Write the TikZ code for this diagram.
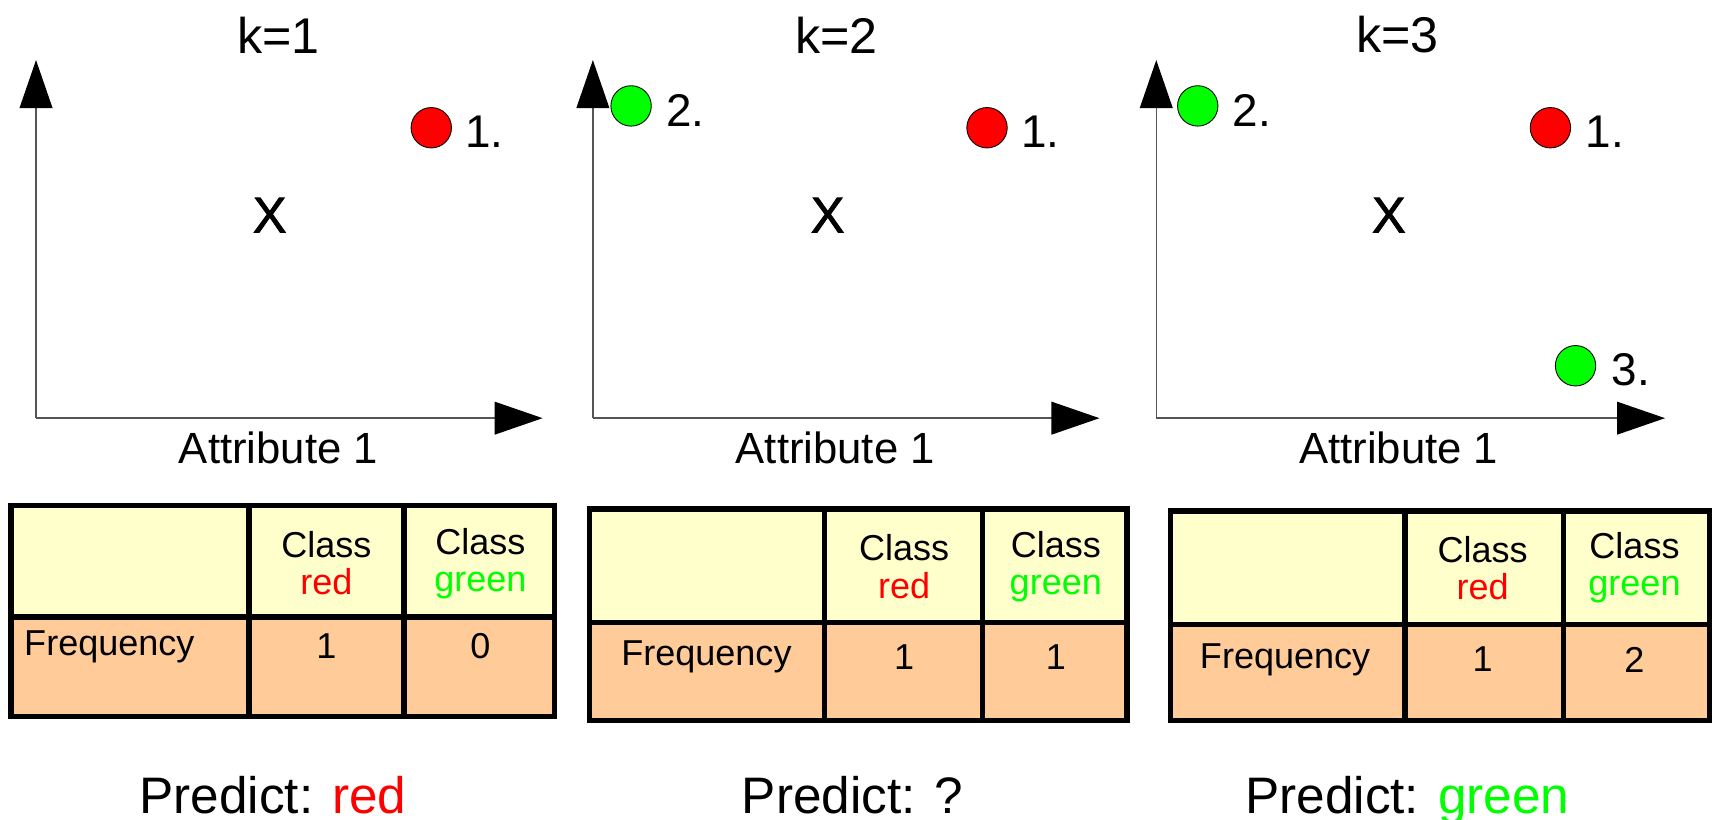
\documentclass[tikz,border=0pt]{standalone}
\usepackage{fontspec}
\setmainfont{Liberation Sans}
\newfontfamily\heavyfont[FakeBold=1.6]{Liberation Sans}
\usetikzlibrary{arrows.meta}
\definecolor{ptred}{HTML}{FF0000}
\definecolor{ptgreen}{HTML}{00FF00}
\definecolor{headbg}{HTML}{FFFFCC}
\definecolor{rowbg}{HTML}{FFCC99}
\definecolor{axisgray}{HTML}{555555}
\tikzset{
  axis/.style={draw=axisgray, line width=1.3pt, -{Triangle[length=44pt,width=30pt,fill=black,color=black]}},
  ttl/.style={font=\fontsize{46}{50}\selectfont, inner sep=0pt},
  lbl/.style={font=\fontsize{42}{46}\selectfont, inner sep=0pt, anchor=west},
  qmark/.style={font=\heavyfont\fontsize{46}{50}\selectfont, inner sep=0pt},
  attr/.style={font=\fontsize{40}{44}\selectfont, inner sep=0pt},
  pt/.style={circle, draw=black, line width=0.8pt, minimum size=37pt, inner sep=0pt},
  redpt/.style={pt, fill=ptred},
  greenpt/.style={pt, fill=ptgreen},
  cell/.style={font=\fontsize{33}{38}\selectfont, inner sep=0pt, align=center},
  grid/.style={line width=5pt, line cap=rect},
  pred/.style={font=\fontsize{47}{52}\selectfont, inner sep=0pt, anchor=base},
}
\begin{document}
\begin{tikzpicture}[x=1pt, y=-1pt]
\useasboundingbox (0,0) rectangle (1568,751);

% ---------- panel k=1 ----------
\coordinate (o1) at (33,383);
\coordinate (ty1) at (33,55);
\coordinate (tx1) at (497,383);
\draw[axis] (o1) -- (ty1);
\draw[axis] (o1) -- (tx1);
\node[ttl] (k1) at (255,32) {k=1};
\node[qmark] (q1) at (247,197) {X};
\node[attr] (a1) at (255,410) {Attribute 1};
\node[redpt] (p1r) at (395,117) {};
\node[lbl] (l1r) at (426,121) {1.};

% ---------- panel k=2 ----------
\coordinate (o2) at (543,383);
\coordinate (ty2) at (543,55);
\coordinate (tx2) at (1007,383);
\draw[axis] (o2) -- (ty2);
\draw[axis] (o2) -- (tx2);
\node[ttl] (k2) at (766,32) {k=2};
\node[qmark] (q2) at (758,197) {X};
\node[attr] (a2) at (765,410) {Attribute 1};
\node[redpt] (p2r) at (904,117) {};
\node[lbl] (l2r) at (935,121) {1.};
\node[greenpt] (p2g) at (578,97) {};
\node[lbl] (l2g) at (610,101) {2.};

% ---------- panel k=3 ----------
\coordinate (o3) at (1059,383);
\coordinate (ty3) at (1059,55);
\coordinate (tx3) at (1525,383);
\draw[axis] (o3) -- (ty3);
\draw[axis] (o3) -- (tx3);
\node[ttl] (k3) at (1280,32) {k=3};
\node[qmark] (q3) at (1272,197) {X};
\node[attr] (a3) at (1281,410) {Attribute 1};
\node[redpt] (p3r) at (1420,117) {};
\node[lbl] (l3r) at (1452,121) {1.};
\node[greenpt] (p3g) at (1097,97) {};
\node[lbl] (l3g) at (1129,101) {2.};
\node[greenpt] (p3g3) at (1443,335) {};
\node[lbl] (l3g3) at (1476,339) {3.};

% ---------- table 1 ----------
\fill[headbg] (10,463) rectangle (508,565);
\fill[rowbg] (10,565) rectangle (508,656);
\draw[grid] (10,463) rectangle (508,656);
\draw[grid] (10,565) -- (508,565);
\draw[grid] (228,463) -- (228,656);
\draw[grid] (370,463) -- (370,656);
\node[cell] (h1a) at (299,516) {Class\\[-4pt]\textcolor{ptred}{red}};
\node[cell] (h1b) at (440,516) {Class\\[-4pt]\textcolor{ptgreen}{green}};
\node[cell, anchor=west] (f1) at (22,592) {Frequency};
\node[cell] (v1a) at (299,592) {1};
\node[cell] (v1b) at (440,592) {0};

% ---------- table 2 ----------
\fill[headbg] (540,466) rectangle (1032,570);
\fill[rowbg] (540,570) rectangle (1032,660);
\draw[grid] (540,466) rectangle (1032,660);
\draw[grid] (540,570) -- (1032,570);
\draw[grid] (755,466) -- (755,660);
\draw[grid] (900,466) -- (900,660);
\node[cell] (h2a) at (828,519) {Class\\[-4pt]\textcolor{ptred}{red}};
\node[cell] (h2b) at (967,519) {Class\\[-4pt]\textcolor{ptgreen}{green}};
\node[cell] (f2) at (647,602) {Frequency};
\node[cell] (v2a) at (828,602) {1};
\node[cell] (v2b) at (967,602) {1};

% ---------- table 3 ----------
\fill[headbg] (1072,468) rectangle (1566,572);
\fill[rowbg] (1072,572) rectangle (1566,660);
\draw[grid] (1072,468) rectangle (1566,660);
\draw[grid] (1072,572) -- (1566,572);
\draw[grid] (1287,468) -- (1287,660);
\draw[grid] (1432,468) -- (1432,660);
\node[cell] (h3a) at (1358,520) {Class\\[-4pt]\textcolor{ptred}{red}};
\node[cell] (h3b) at (1497,520) {Class\\[-4pt]\textcolor{ptgreen}{green}};
\node[cell] (f3) at (1177,604) {Frequency};
\node[cell] (v3a) at (1358,604) {1};
\node[cell] (v3b) at (1497,604) {2};

% ---------- predictions ----------
\node[pred] (r1) at (250,745) {Predict: \textcolor{ptred}{red}};
\node[pred] (r2) at (781,745) {Predict: ?};
\node[pred] (r3) at (1289,745) {Predict: \textcolor{ptgreen}{green}};
\end{tikzpicture}
\end{document}
